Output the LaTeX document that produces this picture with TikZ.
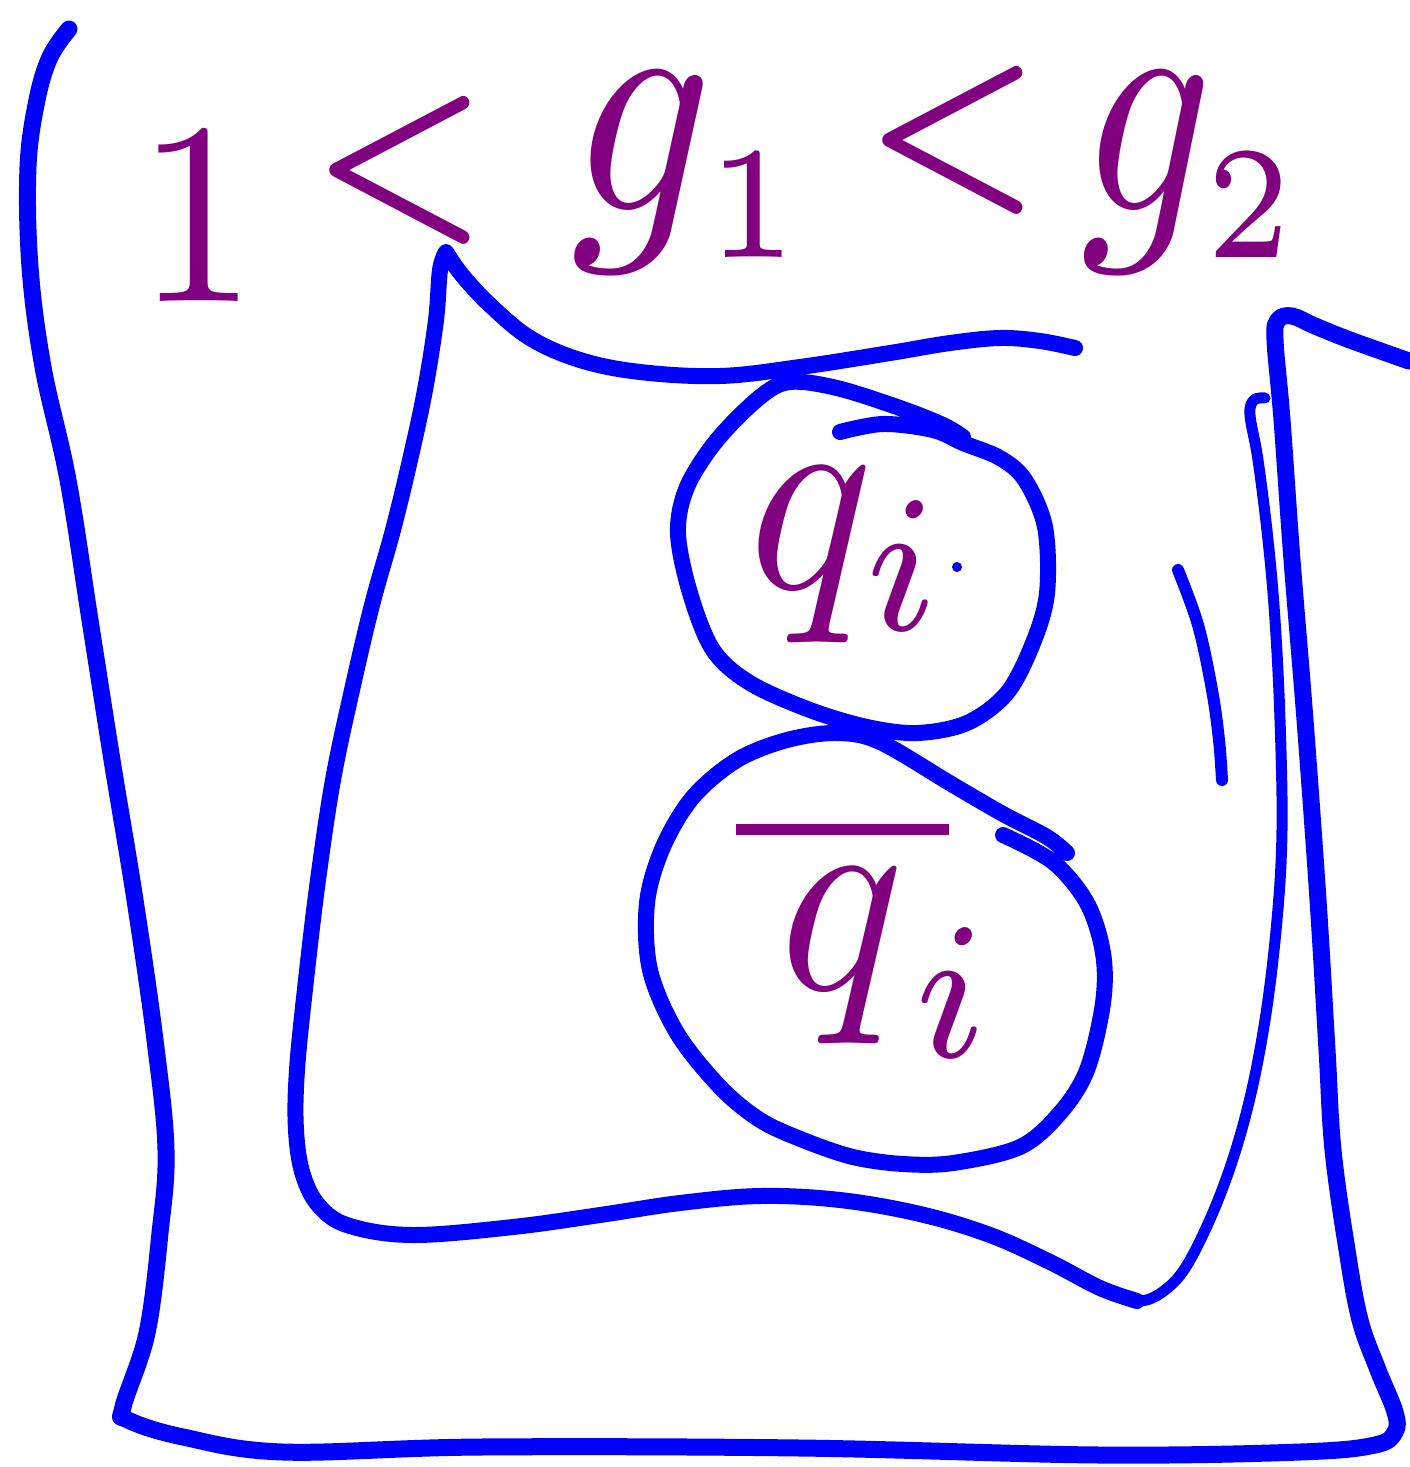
\documentclass[tikz,border=0pt]{standalone}
\usepackage{amsmath}
\definecolor{hblue}{RGB}{0,0,255}
\definecolor{hpurple}{RGB}{128,0,128}
\begin{document}
\begin{tikzpicture}[x=0.5pt,y=-0.5pt,
  pen/.style={draw=hblue,line cap=round,line join=round},
  outerpen/.style={pen,line width=8.5pt},
  innerpen/.style={pen,line width=8pt},
  thinpen/.style={pen,line width=5.5pt},
  txt/.style={text=hpurple,inner sep=0pt},
  btxt/.style={txt,font=\boldmath}]
\useasboundingbox[fill=white] (0,0) rectangle (1409,1467);

% outer frame
\draw[outerpen] plot[smooth,tension=0.6] coordinates {
 (69,29) (50,57) (37,100) (28,167) (30,267) (43,367) (68,480) (90,620) (112,760)
 (135,900) (155,1040) (166,1150) (160,1233) (147,1333) (123,1407) (128,1420)
 (183,1437) (283,1452) (480,1447) (800,1448) (1100,1455) (1300,1452) (1375,1445)
 (1395,1432) (1395,1412) (1378,1370) (1360,1320) (1347,1250) (1333,1150)
 (1327,1050) (1318,900) (1305,720) (1292,560) (1282,420) (1275,340) (1278,320)
 (1292,316) (1315,326) (1350,340) (1409,361)};

% inner frame
\draw[innerpen] plot[smooth,tension=0.6] coordinates {
 (1075,348) (1040,341) (1000,338) (950,343) (890,353) (800,367) (720,376)
 (640,372) (580,360) (530,338) (490,305) (462,275) (446,252)}
 -- plot[smooth,tension=0.6] coordinates {
 (446,252) (440,270) (436,320) (425,390) (410,460) (393,530) (372,605)
 (352,690) (333,780) (318,880) (306,980) (297,1070) (296,1130) (303,1175)
 (320,1207) (350,1226) (413,1235) (513,1227) (600,1215) (680,1203) (760,1196)
 (840,1200) (920,1214) (990,1235) (1050,1262) (1100,1288) (1137,1301)};
\draw[thinpen] plot[smooth,tension=0.6] coordinates {
 (1100,1288) (1137,1301) (1165,1290) (1190,1260) (1222,1190) (1247,1110)
 (1265,1020) (1277,920) (1282,830) (1280,720) (1275,620) (1268,540)
 (1258,460) (1250,415) (1254,400) (1265,398)};

% small stroke
\draw[pen,line width=6pt] plot[smooth,tension=0.6] coordinates {
 (1178,570) (1198,625) (1212,690) (1219,740) (1222,780)};

% upper circle
\draw[innerpen] plot[smooth,tension=0.55] coordinates {
 (840,432) (883,424) (933,430) (963,443) (1000,458) (1025,480) (1045,527)
 (1047,593) (1033,643) (1007,693) (967,723) (917,733) (867,727) (810,710)
 (750,683) (713,650) (690,593) (678,533) (687,487) (717,440) (760,397)
 (790,382) (837,388) (900,408) (943,425) (963,437)};

% lower circle
\draw[innerpen] plot[smooth,tension=0.55] coordinates {
 (1003,835) (1053,862) (1087,903) (1103,953) (1103,1003) (1087,1070)
 (1060,1113) (1020,1147) (953,1163) (903,1164) (853,1157) (803,1140)
 (760,1120) (720,1087) (677,1033) (650,970) (647,903) (663,847) (693,797)
 (737,760) (787,740) (837,733) (880,742) (953,785) (1003,814) (1047,837)
 (1067,853)};

% tiny mark
\fill[hblue] (957,567) circle (2.5pt);

% top formula
\node[txt,xscale=12,yscale=13] (one) at (197,218) {$1$};
\node[btxt,xscale=10,yscale=11] (lt1) at (400,170) {$<$};
\node[txt,inner ysep=1.5pt,xscale=14,yscale=16,anchor=base west] (g1) at (565,210) {$g_{\scriptscriptstyle 1}$};
\node[btxt,xscale=10,yscale=11] (lt2) at (953,140) {$<$};
\node[txt,inner ysep=1.5pt,xscale=13,yscale=16,anchor=base west] (g2) at (1075,210) {$g_{\scriptscriptstyle 2}$};

% circle labels
\node[txt,xscale=13,yscale=14] (qi) at (850,555) {$q_i$};
\node[txt,xscale=13,yscale=14] (qbar) at (868,935) {$\overline{\,q\,}_{\!i}$};
\end{tikzpicture}
\end{document}
